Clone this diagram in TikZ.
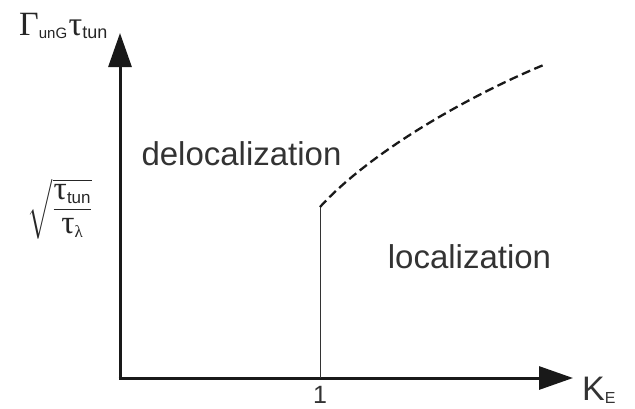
\documentclass[tikz,border=0pt]{standalone}
\usepackage{amsmath}
\usepackage{fontspec}
\setmainfont{Liberation Sans}
\newfontfamily\grk{Liberation Serif}
\usetikzlibrary{arrows.meta,positioning}

\newcommand{\tgrk}{\text{\grk τ}}
\newcommand{\subtxt}[2]{\text{\fontsize{#1}{#1}\selectfont #2}}

\tikzset{
  axis/.style={line width=3pt, draw=black!90, -{Triangle[length=34pt,width=23pt]}},
  regionlabel/.style={font=\fontsize{33}{33}\selectfont, text=black!80, inner sep=0pt},
  ticklabel/.style={font=\fontsize{25}{25}\selectfont, text=black!80, inner sep=0pt},
  boundary/.style={line width=2.3pt, draw=black!90, dash pattern=on 9pt off 4.5pt}
}

\begin{document}
\begin{tikzpicture}[x=1pt,y=-1pt]
\useasboundingbox (0,0) rectangle (635,408);

% axes
\coordinate (O) at (120,378);
\coordinate (ytip) at (120,33);
\coordinate (xtip) at (573,378);
\draw[axis] (O) -- (ytip);
\draw[axis] ([xshift=-1.5pt]O) -- (xtip);

% critical point and phase boundary
\coordinate (foot) at (320,378);
\coordinate (crit) at (320,207);
\coordinate (far) at (546,64);
\draw[line width=0.6pt, draw=black!80] (foot) -- (crit);
\draw[boundary] (crit) .. controls (370,152) and (470,95) .. (far);

% labels
\node[regionlabel, anchor=base] (deloc) at (241.5,165) {delocalization};
\node[regionlabel, anchor=base] (loc) at (469.5,268) {localization};
\node[ticklabel, anchor=base] (one) at (320,403) {1};
\node[regionlabel, anchor=base west, font=\fontsize{34}{34}\selectfont] (xlab) at (582,400)
  {K$_{\subtxt{16}{E}}$};
\node[inner sep=0pt, anchor=base west, text=black!85, font=\fontsize{34}{34}\selectfont] (ylab) at (19,35)
  {{\grk Γ}$_{\subtxt{15}{unG}}$\hspace{1pt}{\grk τ}$_{\subtxt{18}{tun}}$};
\node[inner sep=0pt, text=black!85, font=\fontsize{33}{33}\selectfont] (crit label) at (60,209)
  {$\sqrt{\dfrac{\tgrk_{\subtxt{17}{tun}}}{\tgrk_{\subtxt{17}{\grk λ}}}}$};
\end{tikzpicture}
\end{document}
